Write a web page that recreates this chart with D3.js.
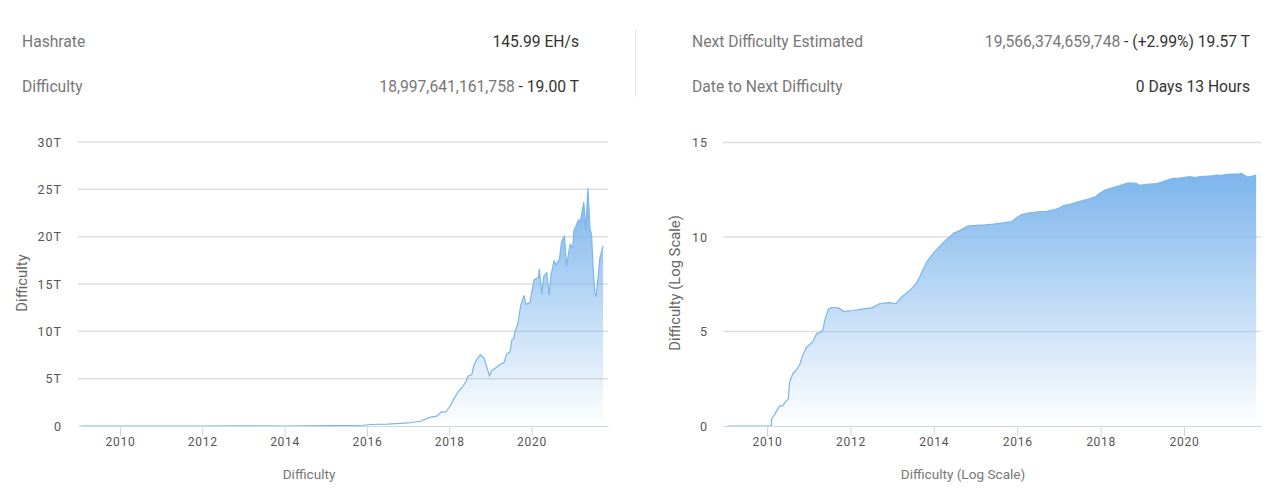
<!DOCTYPE html>
<html>
<head>
<meta charset="utf-8">
<script src="https://cdn.jsdelivr.net/npm/d3@7"></script>
<style>
  html, body { margin: 0; padding: 0; background: #fff; }
  svg { display: block; font-family: Roboto, sans-serif; }
</style>
</head>
<body>
<svg id="chart" width="1280" height="500"></svg>
<script>
// linear chart, years and difficulty in T
const diffYears = [2009.05, 2010, 2011, 2012, 2013, 2014, 2014.5, 2015, 2015.5, 2015.9, 2016.1, 2016.5, 2017, 2017.3,
  2017.53, 2017.70, 2017.82, 2017.92, 2018.02, 2018.12, 2018.22, 2018.34, 2018.42, 2018.46, 2018.55, 2018.59, 2018.67, 2018.76,
  2018.85, 2018.91, 2018.98, 2019.03, 2019.15, 2019.25, 2019.33, 2019.40, 2019.48, 2019.52, 2019.56, 2019.61, 2019.66, 2019.74,
  2019.82, 2019.86, 2019.96, 2020.06, 2020.17, 2020.19, 2020.25, 2020.30, 2020.37, 2020.43, 2020.47, 2020.55, 2020.60, 2020.68,
  2020.73, 2020.80, 2020.85, 2020.94, 2021.00, 2021.03, 2021.14, 2021.19, 2021.27, 2021.32, 2021.37, 2021.42, 2021.46, 2021.50,
  2021.54, 2021.57, 2021.62, 2021.66, 2021.74];
const diffValues = [0, 0, 0, 0.001, 0.003, 0.002, 0.02, 0.04, 0.05, 0.08, 0.16, 0.2, 0.32, 0.5,
  0.91, 1.05, 1.51, 1.48, 2.11, 2.92, 3.62, 4.22, 4.79, 5.28, 5.42, 6.27, 7.04, 7.53,
  7.15, 6.27, 5.28, 5.84, 6.2, 6.55, 6.69, 7.6, 7.85, 9.08, 9.19, 10.14, 10.67, 12.78,
  13.77, 12.85, 13.03, 15.42, 15.7, 16.58, 14.01, 15.84, 16.19, 13.84, 15.84, 17.46, 17.0, 17.67,
  19.47, 20.1, 16.9, 19.22, 18.77, 20.63, 21.76, 21.69, 23.62, 20.7, 25.1, 20.88, 20.17, 16.48,
  14.01, 13.73, 15.77, 17.71, 19.05];

// log chart
const logYears = [2009.07, 2010.10, 2010.11, 2010.19, 2010.30, 2010.38, 2010.43, 2010.51, 2010.54, 2010.62, 2010.70, 2010.78,
  2010.86, 2010.94, 2011.10, 2011.19, 2011.27, 2011.34, 2011.39, 2011.47, 2011.55, 2011.71, 2011.85, 2012.07, 2012.31, 2012.51,
  2012.71, 2012.91, 2013.09, 2013.23, 2013.39, 2013.59, 2013.83, 2013.99, 2014.23, 2014.47, 2014.63, 2014.79, 2014.87, 2015.03,
  2015.23, 2015.43, 2015.67, 2015.87, 2015.99, 2016.11, 2016.27, 2016.55, 2016.71, 2016.87, 2016.99, 2017.11, 2017.27, 2017.43,
  2017.59, 2017.71, 2017.87, 2017.97, 2018.07, 2018.18, 2018.30, 2018.47, 2018.62, 2018.71, 2018.85, 2018.94, 2019.10, 2019.34,
  2019.50, 2019.62, 2019.74, 2019.90, 2020.14, 2020.26, 2020.38, 2020.50, 2020.66, 2020.78, 2020.90, 2021.02, 2021.14, 2021.30,
  2021.38, 2021.44, 2021.52, 2021.62, 2021.73];
const logValues = [0, 0, 0.37, 0.63, 1.07, 1.07, 1.25, 1.42, 2.3, 2.78, 2.95, 3.23,
  3.76, 4.15, 4.46, 4.9, 4.94, 5.08, 5.64, 6.17, 6.27, 6.25, 6.06, 6.11, 6.2, 6.25,
  6.48, 6.53, 6.48, 6.83, 7.1, 7.57, 8.68, 9.15, 9.71, 10.19, 10.35, 10.56, 10.59, 10.61,
  10.64, 10.68, 10.75, 10.82, 11.03, 11.19, 11.26, 11.35, 11.36, 11.44, 11.51, 11.66, 11.73, 11.84,
  11.94, 12.01, 12.12, 12.30, 12.44, 12.54, 12.61, 12.72, 12.84, 12.86, 12.84, 12.73, 12.79, 12.82,
  12.93, 13.02, 13.1, 13.12, 13.19, 13.14, 13.19, 13.21, 13.24, 13.28, 13.26, 13.31, 13.33, 13.33,
  13.37, 13.28, 13.17, 13.21, 13.28];

const yearTicks = [2010, 2012, 2014, 2016, 2018, 2020];
const diffTicks = [0, 5, 10, 15, 20, 25, 30];
const logTicks = [0, 5, 10, 15];

const svg = d3.select('#chart');
const defs = svg.append('defs');

// stat rows at the top
const stats = [
  { label: 'Hashrate', lx: 22, rx: 579, y: 46.5, parts: [['145.99 EH/s', '#333']] },
  { label: 'Difficulty', lx: 22, rx: 579, y: 91.5, parts: [['18,997,641,161,758', '#777'], [' - 19.00 T', '#333']] },
  { label: 'Next Difficulty Estimated', lx: 692, rx: 1250, y: 46.5, parts: [['19,566,374,659,748', '#777'], [' - (+2.99%) 19.57 T', '#333']] },
  { label: 'Date to Next Difficulty', lx: 692, rx: 1250, y: 91.5, parts: [['0 Days 13 Hours', '#333']] },
];

stats.forEach(function (s) {
  svg.append('text').attr('x', s.lx).attr('y', s.y)
    .attr('font-size', 15.65).attr('fill', '#777').text(s.label);
  let t = svg.append('text').attr('x', s.rx).attr('y', s.y)
    .attr('font-size', 15.65).attr('text-anchor', 'end').attr('xml:space', 'preserve');
  s.parts.forEach(function (p) {
    t.append('tspan').attr('fill', p[1]).text(p[0]);
  });
});

svg.append('line').attr('x1', 635.5).attr('x2', 635.5).attr('y1', 29).attr('y2', 97)
  .attr('stroke', '#e8e8e8');

function drawChart(o) {
  const x = d3.scaleLinear().domain(o.xDomain).range(o.xRange);
  const y = d3.scaleLinear().domain(o.yDomain).range(o.yRange);
  const data = o.years.map(function (yr, i) { return [yr, o.values[i]]; });
  const top = d3.max(o.values);

  //gradient runs from the highest point down to the baseline
  const grad = defs.append('linearGradient').attr('id', o.id)
    .attr('gradientUnits', 'userSpaceOnUse')
    .attr('x1', 0).attr('x2', 0).attr('y1', y(top)).attr('y2', y(0));
  grad.append('stop').attr('offset', 0).attr('stop-color', '#7cb5ec').attr('stop-opacity', 1);
  grad.append('stop').attr('offset', 1).attr('stop-color', '#7cb5ec').attr('stop-opacity', 0);

  const g = svg.append('g');

  g.append('g').selectAll('line').data(o.yTicks.filter(function (d) { return d !== 0; })).enter().append('line')
    .attr('x1', o.xRange[0]).attr('x2', o.xRange[1])
    .attr('y1', function (d) { return y(d); })
    .attr('y2', function (d) { return y(d); })
    .attr('stroke', '#dedede').attr('stroke-width', 1.5);

  const area = d3.area().x(function (d) { return x(d[0]); }).y0(y(0)).y1(function (d) { return y(d[1]); });
  const line = d3.line().x(function (d) { return x(d[0]); }).y(function (d) { return y(d[1]); });

  g.append('path').datum(data).attr('d', area).attr('fill', 'url(#' + o.id + ')');
  g.append('path').datum(data).attr('d', line).attr('fill', 'none')
    .attr('stroke', '#7cb5ec').attr('stroke-width', 1.2).attr('stroke-linejoin', 'round');

  const xAxis = g.append('g').attr('transform', 'translate(0,' + o.yRange[0] + ')')
    .call(d3.axisBottom(x).tickValues(yearTicks).tickFormat(d3.format('d')).tickSize(10).tickSizeOuter(0));
  xAxis.select('.domain').attr('stroke', '#ccd6eb');
  xAxis.selectAll('.tick line').attr('stroke', '#ccd6eb');
  xAxis.selectAll('.tick text').attr('y', 11).attr('font-size', 12).attr('fill', '#555')
    .attr('font-family', 'Roboto, sans-serif').attr('letter-spacing', 0.75);

  const yAxis = g.append('g').attr('transform', 'translate(' + o.xRange[0] + ',0)')
    .call(d3.axisLeft(y).tickValues(o.yTicks).tickFormat(o.yFormat).tickSize(0));
  yAxis.select('.domain').remove();
  yAxis.selectAll('.tick text').attr('x', o.yLabelX - o.xRange[0]).attr('font-size', 12.5).attr('fill', '#555')
    .attr('font-family', 'Roboto, sans-serif').attr('letter-spacing', 1);

  g.append('text').attr('x', o.xTitleX).attr('y', 479).attr('text-anchor', 'middle')
    .attr('font-size', 13.6).attr('fill', '#777').text(o.title);
  g.append('text').attr('transform', 'translate(' + o.yTitleX + ',' + o.yTitleY + ') rotate(-90)')
    .attr('text-anchor', 'middle').attr('font-size', 14.8).attr('fill', '#666').text(o.title);
}

drawChart({
  id: 'fillDiff', title: 'Difficulty',
  years: diffYears, values: diffValues, yTicks: diffTicks,
  xDomain: [2008.979, 2021.859], xRange: [78, 608],
  yDomain: [0, 30], yRange: [426, 142],
  yFormat: function (d) { return d === 0 ? '0' : d + 'T'; },
  yLabelX: 62, xTitleX: 309, yTitleX: 27, yTitleY: 283,
});

drawChart({
  id: 'fillLog', title: 'Difficulty (Log Scale)',
  years: logYears, values: logValues, yTicks: logTicks,
  xDomain: [2008.945, 2021.846], xRange: [723, 1261],
  yDomain: [0, 15], yRange: [426, 142.5],
  yFormat: d3.format('d'),
  yLabelX: 708, xTitleX: 963, yTitleX: 680, yTitleY: 283,
});
</script>
</body>
</html>
